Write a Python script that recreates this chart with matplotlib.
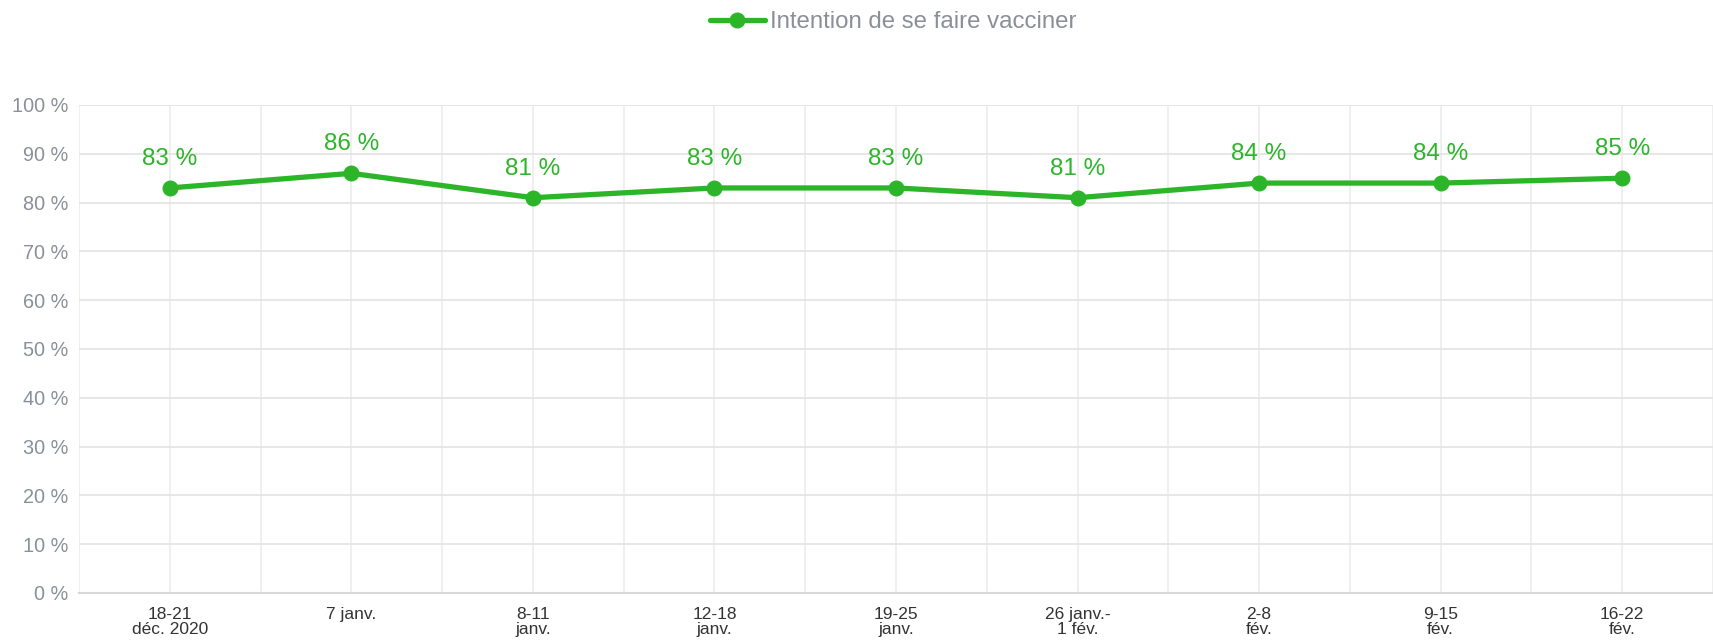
# Intention de se faire vacciner
import numpy as np
import matplotlib.pyplot as plt

plt.rcParams['font.family'] = ['Liberation Sans', 'DejaVu Sans']

categories = ["18-21\ndéc. 2020", "7 janv.", "8-11\njanv.", "12-18\njanv.", "19-25\njanv.",
              "26 janv.-\n1 fév.", "2-8\nfév.", "9-15\nfév.", "16-22\nfév."]
values = [83, 86, 81, 83, 83, 81, 84, 84, 85]
series_name = "Intention de se faire vacciner"

green = '#2db52a'

fig = plt.figure(figsize=(17.13, 6.41), dpi=100)
ax = fig.add_axes([79 / 1713, 48 / 641, 1 - 79 / 1713, (593 - 105) / 641])

x = np.arange(len(categories))
ax.plot(x, values, color=green, linewidth=3.8, marker='o', markersize=10.5,
        solid_capstyle='round', label=series_name, zorder=3)
for xi, v in zip(x, values):
    ax.annotate(f"{v} %", (xi, v), xytext=(0, 13), textcoords='offset points',
                ha='center', va='bottom', color=green, fontsize=17.5)

ax.set_xlim(-0.49, 8.4)
ax.set_ylim(0, 100)
ax.set_yticks(range(0, 101, 10))
ax.set_yticklabels([f"{v} %" for v in range(0, 101, 10)], color='#8a8f99', fontsize=14.3)
ax.set_xticks(x)
ax.set_xticklabels(categories, color='#333333', fontsize=12.5, linespacing=1.0)
ax.set_xticks(np.arange(-0.5, 8.6, 1.0), minor=True)
ax.tick_params(axis='both', which='both', length=0)
ax.tick_params(axis='y', pad=8)
ax.tick_params(axis='x', pad=10)

ax.grid(True, which='both', axis='x', color='#ececec', linewidth=1.2)
ax.grid(True, which='major', axis='y', color='#e3e3e3', linewidth=1.2)
for s in ['top', 'right', 'left']:
    ax.spines[s].set_visible(False)
ax.spines['bottom'].set_color('#d8d8d8')
ax.spines['bottom'].set_linewidth(1.5)

leg = fig.legend(loc='center', bbox_to_anchor=(893 / 1713, 1 - 22 / 641), frameon=False,
                 fontsize=17.3, handlelength=2.3, handletextpad=0.2)
for t in leg.get_texts():
    t.set_color('#8a8f99')

fig.savefig('out.png', dpi=100)
